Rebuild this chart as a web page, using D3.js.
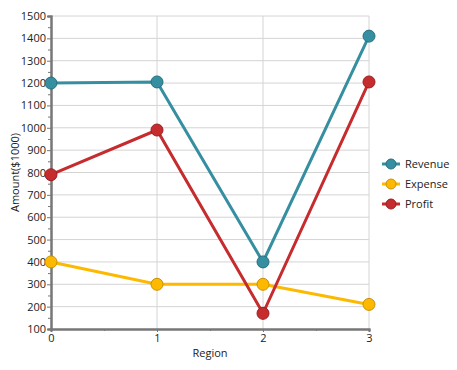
<!DOCTYPE html>
<html>
<head>
<meta charset="utf-8">
<script src="https://cdn.jsdelivr.net/npm/d3@7"></script>
<style>
  body { margin: 0; background: #fff; }
  svg text { font-family: "Open Sans", "Noto Sans", sans-serif; font-size: 11px; fill: #222; }
</style>
</head>
<body>
<div id="chart"></div>
<script>
// data
const regions = [0, 1, 2, 3];
const revenue = [1200, 1205, 400, 1410];
const expense = [400, 300, 300, 210];
const profit = [790, 990, 170, 1205];
const yTicks = d3.range(100, 1501, 100);

const series = [
  { name: 'Revenue', values: revenue, color: '#368fa0', stroke: '#25707e' },
  { name: 'Expense', values: expense, color: '#fdb900', stroke: '#c7920a' },
  { name: 'Profit', values: profit, color: '#c62b2e', stroke: '#992024' },
];

// dimensions
const WIDTH = 457;
const HEIGHT = 370;
const MARGIN = { top: 16, right: 88, bottom: 41, left: 51 };

const $svg = d3.select('#chart').append('svg')
  .attr('width', WIDTH)
  .attr('height', HEIGHT);

const scaleX = d3.scaleLinear().domain([0, 3]).range([MARGIN.left, WIDTH - MARGIN.right]);
const scaleY = d3.scaleLinear().domain([100, 1500]).range([HEIGHT - MARGIN.bottom, MARGIN.top]);

// gridlines
const $grid = $svg.append('g').attr('class', 'g-grid');
$grid.selectAll('.h').data(yTicks.slice(1)).join('line')
  .attr('x1', scaleX(0)).attr('x2', scaleX(3))
  .attr('y1', d => scaleY(d)).attr('y2', d => scaleY(d))
  .attr('stroke', '#d4d4d4').attr('stroke-width', 1);
$grid.selectAll('.v').data(regions.slice(1)).join('line')
  .attr('x1', d => scaleX(d)).attr('x2', d => scaleX(d))
  .attr('y1', scaleY(100)).attr('y2', scaleY(1500))
  .attr('stroke', '#d4d4d4').attr('stroke-width', 1);

// y axis
const $yAxis = $svg.append('g')
  .attr('transform', `translate(${MARGIN.left},0)`);
$yAxis.call(d3.axisLeft(scaleY).tickValues(yTicks).tickSize(4).tickPadding(1).tickFormat(d3.format('d')));
$yAxis.append('g').call(d3.axisLeft(scaleY).tickValues(d3.range(150, 1500, 100)).tickSize(3).tickFormat(''));
$yAxis.selectAll('.domain').attr('stroke', '#777').attr('stroke-width', 2);
$yAxis.selectAll('.tick line').attr('stroke', '#777');

// x axis
const $xAxis = $svg.append('g')
  .attr('transform', `translate(0,${HEIGHT - MARGIN.bottom})`);
$xAxis.call(d3.axisBottom(scaleX).tickValues(regions).tickSize(3).tickPadding(2).tickFormat(d3.format('d')));
$xAxis.append('g').call(d3.axisBottom(scaleX).tickValues([0.5, 1.5, 2.5]).tickSize(2).tickFormat(''));
$xAxis.selectAll('.domain').attr('stroke', '#777').attr('stroke-width', 2);
$xAxis.selectAll('.tick line').attr('stroke', '#777');

$svg.selectAll('.tick text').style('font-size', '11px').attr('fill', '#222');

// axis titles
$svg.append('text')
  .attr('x', (scaleX(0) + scaleX(3)) / 2)
  .attr('y', 357)
  .attr('text-anchor', 'middle')
  .text('Region');
$svg.append('text')
  .attr('transform', `translate(19,${(scaleY(100) + scaleY(1500)) / 2}) rotate(-90)`)
  .attr('text-anchor', 'middle')
  .text('Amount($1000)');

// lines + markers
const line = d3.line().x((d, i) => scaleX(regions[i])).y(d => scaleY(d));
const $vis = $svg.append('g').attr('class', 'g-vis');
series.forEach(s => {
  $vis.append('path')
    .attr('d', line(s.values))
    .attr('fill', 'none')
    .attr('stroke', s.color)
    .attr('stroke-width', 3);
});
series.forEach(s => {
  $vis.selectAll(null).data(s.values).join('circle')
    .attr('cx', (d, i) => scaleX(regions[i]))
    .attr('cy', d => scaleY(d))
    .attr('r', 6)
    .attr('fill', s.color)
    .attr('stroke', s.stroke)
    .attr('stroke-width', 1);
});

// legend
const $legend = $svg.append('g').attr('transform', 'translate(382,164)');
const $items = $legend.selectAll('g').data(series).join('g')
  .attr('transform', (d, i) => `translate(0,${i * 20})`);
$items.append('line')
  .attr('x1', 0).attr('x2', 18).attr('y1', 0).attr('y2', 0)
  .attr('stroke', d => d.color).attr('stroke-width', 3);
$items.append('circle')
  .attr('cx', 9).attr('cy', 0).attr('r', 5)
  .attr('fill', d => d.color).attr('stroke', d => d.stroke);
$items.append('text')
  .attr('x', 23).attr('y', 0).attr('dy', '0.35em')
  .text(d => d.name);
</script>
</body>
</html>
